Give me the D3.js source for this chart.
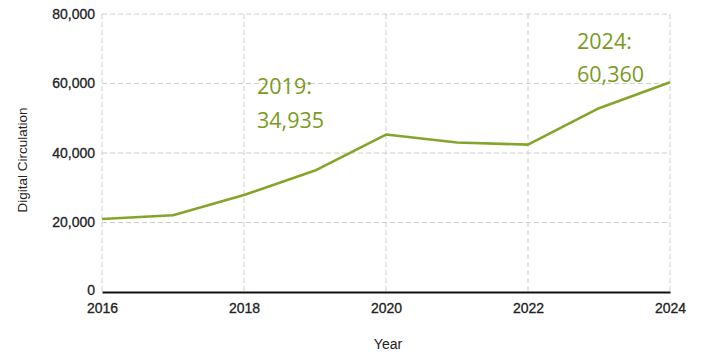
<!DOCTYPE html>
<html>
<head>
<meta charset="utf-8">
<script src="https://cdn.jsdelivr.net/npm/d3@7"></script>
<style>
  html, body { margin: 0; padding: 0; background: #fff; }
  svg { display: block; }
</style>
</head>
<body>
<svg id="chart" width="701" height="354"></svg>
<script>
// Digital circulation by year
const years = [2016, 2017, 2018, 2019, 2020, 2021, 2022, 2023, 2024];
const circulation = [21000, 22100, 27900, 34935, 45300, 43000, 42400, 52900, 60360];
const yTicks = [0, 20000, 40000, 60000, 80000];
const xTicks = [2016, 2018, 2020, 2022, 2024];
const callouts = [
  { year: 2019, lines: ["2019:", "34,935"] },
  { year: 2024, lines: ["2024:", "60,360"] }
];

const lineColor = "#84a52a";
const noteColor = "#7a9a1e";
const axisFont = "Liberation Sans, Arial, sans-serif";

const svg = d3.select("#chart");
const margin = { top: 14, right: 31, bottom: 62, left: 102 };
const width = 701, height = 354;

const x = d3.scaleLinear().domain([2016, 2024]).range([margin.left, width - margin.right]);
const y = d3.scaleLinear().domain([0, 80000]).range([height - margin.bottom, margin.top]);

const grid = svg.append("g").attr("stroke", "#cdcdcd").attr("stroke-width", 1)
  .attr("stroke-dasharray", "5,3");

grid.selectAll("line.h").data(yTicks.filter(d => d > 0)).join("line")
  .attr("class", "h")
  .attr("x1", x(2016)).attr("x2", x(2024))
  .attr("y1", d => y(d)).attr("y2", d => y(d));

grid.selectAll("line.v").data(xTicks).join("line")
  .attr("class", "v")
  .attr("x1", d => x(d)).attr("x2", d => x(d))
  .attr("y1", y(80000)).attr("y2", y(0));

// Y axis labels
const yAxis = d3.axisLeft(y).tickValues(yTicks).tickSize(0).tickPadding(7)
  .tickFormat(d3.format(","));
const yg = svg.append("g").attr("transform", `translate(${margin.left},0)`).call(yAxis);
yg.select(".domain").remove();
yg.selectAll("text").attr("font-family", axisFont)
  .attr("font-size", 14).attr("fill", "#222")
  .attr("stroke", "#222").attr("stroke-width", 0.3);
yg.selectAll("text").filter(d => d === 0).attr("dy", "0.2em");

// X axis
const xAxis = d3.axisBottom(x).tickValues(xTicks).tickSize(0).tickPadding(11)
  .tickFormat(d3.format("d"));
const xg = svg.append("g").attr("transform", `translate(0,${y(0)})`).call(xAxis);
xg.select(".domain").attr("stroke", "#111").attr("stroke-width", 2);
xg.selectAll("text").attr("font-family", axisFont)
  .attr("font-size", 14).attr("fill", "#222")
  .attr("stroke", "#222").attr("stroke-width", 0.3);

// Axis titles
svg.append("text")
  .attr("x", 388).attr("y", 349)
  .attr("text-anchor", "middle")
  .attr("font-family", axisFont)
  .attr("font-size", 14).attr("fill", "#222")
  .text("Year");

svg.append("text")
  .attr("transform", `translate(27,160) rotate(-90)`)
  .attr("text-anchor", "middle")
  .attr("font-family", axisFont)
  .attr("font-size", 13.5).attr("fill", "#222")
  .text("Digital Circulation");

// Line
const data = years.map((yr, i) => ({ year: yr, value: circulation[i] }));
const line = d3.line().x(d => x(d.year)).y(d => y(d.value));
svg.append("path").datum(data)
  .attr("d", line)
  .attr("fill", "none")
  .attr("stroke", lineColor)
  .attr("stroke-width", 2.6)
  .attr("stroke-linejoin", "round");

// Callouts
const notes = svg.append("g")
  .attr("font-family", "Open Sans, Noto Sans, sans-serif")
  .attr("font-size", 21.5).attr("fill", noteColor);

notes.append("text").attr("x", x(2018) + 13).attr("y", 94).text(callouts[0].lines[0]);
notes.append("text").attr("x", x(2018) + 13).attr("y", 128).text(callouts[0].lines[1]);
notes.append("text").attr("x", x(2022) + 49).attr("y", 49).text(callouts[1].lines[0]);
notes.append("text").attr("x", x(2022) + 49).attr("y", 82).text(callouts[1].lines[1]);
</script>
</body>
</html>
